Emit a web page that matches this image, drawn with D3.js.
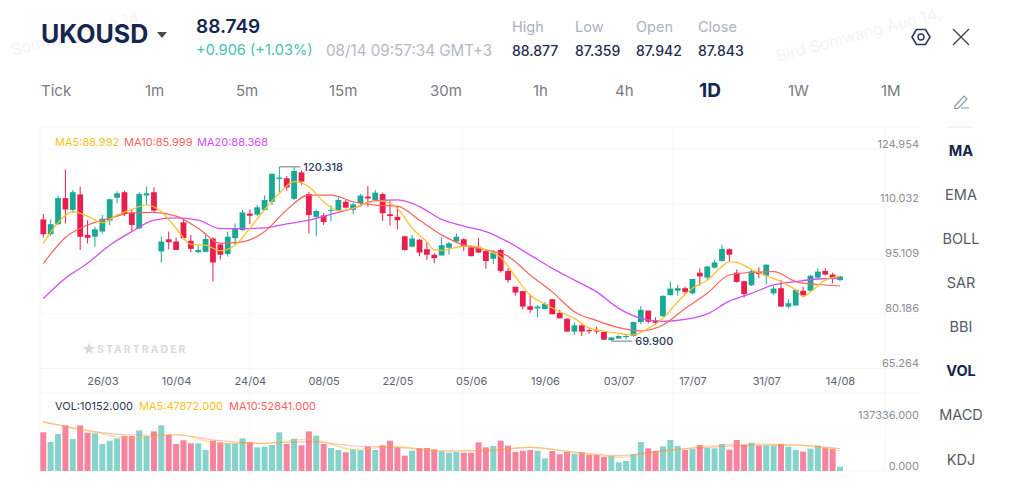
<!DOCTYPE html>
<html>
<head>
<meta charset="utf-8">
<style>
body { margin: 0; background: #fff; }
svg { display: block; font-family: Inter, "Open Sans", sans-serif; }
</style>
<script src="https://d3js.org/d3.v7.min.js"></script>
</head>
<body>
<svg id="chart" width="1024" height="500"></svg>
<script>
var opens = [105.8,101.8,104.5,111.6,108.4,112.6,101.6,101.1,102.5,105.5,
    111.7,113.2,107.6,103.4,112.3,113.2,97.1,100.4,99.8,105.0,
    100.0,96.9,97.0,100.6,99.0,96.4,100.7,102.9,107.4,107.1,
    108.4,110.6,116.8,117.0,111.4,118.6,112.7,106.5,106.9,108.2,
    108.2,110.6,108.4,110.2,112.0,111.1,112.7,107.2,106.5,101.2,
    98.4,100.3,97.7,96.2,96.0,98.1,99.8,100.4,98.2,98.2,
    97.2,95.1,97.5,91.8,87.5,86.3,82.2,81.6,81.4,84.1,
    80.4,78.8,75.3,77.0,75.7,75.6,75.2,73.0,73.4,73.8,
    74.1,77.9,81.0,78.3,79.5,85.2,86.4,87.1,85.7,91.3,
    90.0,92.7,94.5,97.7,91.3,89.0,87.9,91.5,90.5,85.7,
    87.1,82.1,82.4,86.4,86.4,90.0,91.8,90.8,89.3];
var closes = [101.8,104.5,111.6,108.5,113.2,101.1,100.8,103.1,106.0,111.3,
    112.9,107.3,104.3,112.7,112.9,108.2,99.8,99.6,97.5,100.7,
    97.8,97.5,100.5,94.1,96.2,101.1,103.2,107.7,106.8,109.1,
    111.1,118.2,117.2,114.5,119.0,116.1,107.0,108.1,105.1,108.4,
    111.1,109.0,109.9,112.3,111.5,113.1,107.5,106.7,105.6,97.5,
    100.6,96.8,96.2,95.3,98.8,99.3,101.1,98.4,95.8,96.8,
    94.5,96.8,91.8,89.3,85.9,82.1,81.2,82.1,82.8,80.0,
    78.9,75.3,77.0,75.3,75.4,75.3,73.1,73.7,74.1,74.1,
    77.9,81.2,78.0,77.7,85.0,87.0,87.1,86.1,89.6,90.3,
    93.0,94.1,97.8,96.2,88.8,85.5,91.7,91.0,93.5,87.0,
    82.1,83.0,86.6,85.2,90.5,91.6,90.8,89.6,90.3];
var highs = [107.3,105.8,112.3,119.4,113.8,114.7,105.6,103.8,107.0,111.4,
    113.4,113.6,108.4,113.2,114.7,114.5,101.1,102.5,100.9,106.1,
    101.6,98.8,102.0,100.9,99.3,102.5,104.7,108.4,108.5,109.7,
    112.3,118.3,120.1,117.6,120.0,119.1,113.3,108.4,107.5,109.7,
    111.8,111.1,110.4,112.7,114.9,113.8,113.1,110.9,109.3,101.4,
    101.6,100.5,99.7,96.6,100.9,99.7,102.0,100.7,98.8,100.7,
    97.7,97.5,97.9,92.5,87.5,86.4,85.4,82.5,83.4,84.1,
    81.2,78.9,77.8,77.3,76.2,76.6,75.3,73.7,74.3,74.6,
    78.0,82.2,81.0,79.2,85.2,88.9,88.0,87.5,89.7,92.5,
    93.1,94.8,98.9,97.9,92.2,89.1,92.0,92.8,93.6,87.7,
    89.3,84.1,86.9,87.5,90.7,92.5,92.5,91.3,90.5];
var lows = [100.9,101.3,104.4,104.7,107.5,97.5,99.3,98.4,102.0,104.3,
    110.2,106.7,102.7,103.1,109.7,107.9,94.1,97.7,97.5,100.4,
    96.8,96.6,96.9,88.9,94.9,95.7,98.8,102.7,104.5,106.7,
    108.2,109.7,113.2,113.6,111.1,115.2,102.0,101.3,104.3,105.2,
    108.0,108.8,107.2,109.3,109.3,111.1,105.4,104.1,103.1,97.3,
    98.2,95.8,94.8,93.9,96.0,96.3,99.6,97.2,95.8,96.6,
    92.4,93.6,91.3,88.6,85.1,81.3,80.4,79.2,81.4,80.0,
    78.9,75.3,74.4,74.1,74.7,74.6,73.0,72.7,73.4,73.2,
    73.9,77.3,77.5,77.1,79.3,85.1,85.1,85.5,85.5,87.8,
    89.3,92.5,94.3,94.3,88.6,84.5,87.7,89.8,88.1,85.3,
    82.0,81.6,82.3,85.1,86.2,89.6,90.6,88.4,89.0];
var volumes = [91500,68600,87600,108100,75700,108100,90700,89200,63900,71800,
    77300,82800,82800,96300,82800,93900,108100,85200,63900,72600,
    65500,65500,49700,71800,67900,65500,65500,77300,67900,56000,
    57600,61500,91500,63900,76500,60800,93900,83600,63900,54400,
    49700,44200,51300,49700,57600,49700,60800,71800,55200,36300,
    48100,54400,54400,51300,46600,43400,45000,43400,43400,67900,
    56000,59200,71800,60000,45000,48100,49700,48100,30000,47300,
    39500,45000,41000,44200,37900,37900,33100,35500,20500,23700,
    39500,68600,53700,47300,58400,73400,59200,49700,52100,61500,
    54400,53700,63900,50500,73400,62300,67100,60000,60000,60000,
    63900,57600,49700,45800,52900,60000,55200,52900,10152];

var ma5Index = [0,2,4,6,8,10,12,14,16,18,20,22,24,26,28,30,32,34,36,38,40,42,44,46,48,50,52,53,54,56,58,60,62,64,66,68,70,72,74,76,78,80,82,84,86,88,90,92,93,94,96,98,100,102,103,104,106,108];
var ma5 = [99.3,104.9,107.9,106.7,104.9,107.0,108.5,109.8,107.9,103.4,99.0,98.8,97.3,98.8,103.4,108.5,112.9,116.1,114.7,110.6,108.2,108.8,110.4,110.8,108.8,103.4,99.7,97.5,97.4,98.2,98.6,97.5,95.5,90.2,85.2,82.8,80.7,78.9,76.3,75.4,74.8,74.4,76.2,78.9,83.4,87.1,89.3,93.0,94.3,94.1,92.2,90.5,88.9,86.6,84.8,86.1,89.3,90.4];
var maIndex = [0,3,6,9,12,15,18,21,24,27,30,33,36,39,42,45,48,51,54,57,60,63,66,69,72,75,78,81,84,87,90,93,96,99,102,105,108];
var ma10 = [93.8,100.9,104.3,106.1,107.6,107.7,106.7,103.4,99.3,99.7,102.5,108.4,112.4,112.4,110.6,109.7,109.4,105.6,101.6,98.8,97.5,95.8,90.7,86.1,80.7,78.3,76.4,75.5,77.1,81.6,85.7,90.7,91.4,91.6,88.9,88.1,87.7];
var ma20 = [84.3,89.8,93.9,98.8,102.5,105.6,106.2,105.6,103.3,103.3,103.5,104.6,105.6,107.2,108.8,110.9,111.1,109.3,105.8,104.0,102.5,99.7,96.1,92.5,89.3,86.1,81.6,78.9,78.1,78.6,80.1,83.6,85.7,88.0,88.9,89.6,89.8];

var volMaIndex = [0,6,12,18,24,30,36,42,48,54,60,66,72,78,84,90,96,102,108];
var volMa5 = [115200,95500,77300,86800,65500,65500,75700,51300,57600,47300,49700,56000,44200,32300,45800,59200,63900,61500,47872];
var volMa10 = [116800,95500,85200,85200,71800,65500,69400,59200,56000,47300,48100,56000,45000,36300,48100,56000,61500,61500,52841];

var dateTicks = [8,18,28,38,48,58,68,78,88,98,108];
var dateLabels = ["26/03","10/04","24/04","08/05","22/05","05/06","19/06","03/07","17/07","31/07","14/08"];
var priceTicks = [124.954,110.032,95.109,80.186,65.264];
var volTicks = [137336,0];
var periods = ["Tick","1m","5m","15m","30m","1h","4h","1D","1W","1M"];
var indicators = ["MA","EMA","BOLL","SAR","BBI","VOL","MACD","KDJ"];

var RED = "#e91e4d", GREEN = "#1aa897", NAVY = "#15264f";
var YELLOW = "#fbbf24", CORAL = "#f8635f", PURPLE = "#d34ff5";

var svg = d3.select("#chart");
var x = d3.scaleLinear().domain([0, 108]).range([43.3, 840]);
var y = d3.scaleLinear().domain([65.264, 124.954]).range([368.5, 149]);
var yVol = d3.scaleLinear().domain([0, 137336]).range([471, 413]);

function txt(s, tx, ty, size, color, weight, anchor){
    return svg.append("text").attr("x", tx).attr("y", ty)
        .attr("font-size", size).attr("fill", color)
        .attr("font-weight", weight || 400)
        .attr("text-anchor", anchor || "start")
        .attr("dominant-baseline", "central")
        .text(s);
}

// watermark
[["Somwang Aug 14,", 13, 56], ["Bird Somwang Aug 14,", 778, 62]].forEach(function(p){
    svg.append("text").attr("transform", "translate(" + p[1] + "," + p[2] + ") rotate(-15)")
        .attr("font-size", 16).attr("fill", "#f4f4f5").text(p[0]);
});

// grid
var hLines = [127].concat(priceTicks.map(y)).concat([393, 432, 471]);
svg.append("g").selectAll("line").data(hLines).enter().append("line")
    .attr("x1", 40).attr("x2", 920).attr("y1", function(d){ return d; }).attr("y2", function(d){ return d; })
    .attr("stroke", "#f7f7f8");
svg.append("g").selectAll("line").data([40, 250, 462, 673, 885]).enter().append("line")
    .attr("x1", function(d){ return d; }).attr("x2", function(d){ return d; })
    .attr("y1", 127).attr("y2", 471).attr("stroke", "#f7f7f8");

// logo
svg.append("path").attr("d", d3.symbol().type(d3.symbolStar).size(50)()).attr("transform", "translate(89,349)").attr("fill", "#d3d8df");
txt("STARTRADER", 97, 349, 10.5, "#d3d8df", 600).attr("letter-spacing", 2.1);

// candles
var idx = d3.range(opens.length);
function isUp(i){ return closes[i] >= opens[i]; }
function candleColor(i){ return isUp(i) ? GREEN : RED; }

svg.append("g").selectAll("line").data(idx).enter().append("line")
    .attr("x1", x).attr("x2", x)
    .attr("y1", function(i){ return y(highs[i]); })
    .attr("y2", function(i){ return y(lows[i]); })
    .attr("stroke", candleColor).attr("stroke-width", 1);
svg.append("g").selectAll("rect").data(idx).enter().append("rect")
    .attr("x", function(i){ return x(i) - 2.9; })
    .attr("width", 5.8)
    .attr("y", function(i){ return y(Math.max(opens[i], closes[i])); })
    .attr("height", function(i){ return Math.max(1, Math.abs(y(opens[i]) - y(closes[i]))); })
    .attr("fill", candleColor);

// moving averages
function drawLine(scale, xs, ys, color, width, opacity){
    var line = d3.line()
        .x(function(d){ return x(d); })
        .y(function(d, k){ return scale(ys[k]); })
        .curve(d3.curveMonotoneX);
    svg.append("path").attr("d", line(xs)).attr("fill", "none")
        .attr("stroke", color).attr("stroke-width", width).attr("stroke-opacity", opacity || 1);
}
drawLine(y, maIndex, ma20, PURPLE, 1.3);
drawLine(y, maIndex, ma10, CORAL, 1.2);
drawLine(y, ma5Index, ma5, YELLOW, 1.2);

// high / low markers
var hiIdx = 32, loIdx = 77;
svg.append("path").attr("fill", "none").attr("stroke", "#6b7688")
    .attr("d", "M" + x(hiIdx) + "," + y(highs[hiIdx]) + "H" + (x(hiIdx) + 21));
txt("120.318", x(hiIdx) + 24, y(highs[hiIdx]), 11, "#2b3a58", 500);
svg.append("path").attr("fill", "none").attr("stroke", "#6b7688")
    .attr("d", "M" + x(loIdx) + "," + y(lows[loIdx]) + "H" + (x(loIdx) + 21));
txt("69.900", x(loIdx) + 24, y(lows[loIdx]), 11, "#2b3a58", 500);

// volume
svg.append("g").selectAll("rect").data(idx).enter().append("rect")
    .attr("x", function(i){ return x(i) - 3; })
    .attr("width", 6)
    .attr("y", function(i){ return yVol(volumes[i]); })
    .attr("height", function(i){ return yVol(0) - yVol(volumes[i]); })
    .attr("fill", function(i){ return isUp(i) ? "#86d3cb" : "#f7849e"; });
drawLine(yVol, volMaIndex, volMa10, CORAL, 1.2, 0.4);
drawLine(yVol, volMaIndex, volMa5, YELLOW, 1.2, 0.5);

// axes
var xAxis = svg.append("g").attr("transform", "translate(0,381)")
    .call(d3.axisBottom(x).tickValues(dateTicks).tickSize(0).tickPadding(0)
        .tickFormat(function(d, k){ return dateLabels[k]; }));
xAxis.select(".domain").remove();
xAxis.selectAll("text").attr("dy", 0).attr("dominant-baseline", "central")
    .attr("font-size", 11).attr("font-family", "Inter").attr("fill", "#5a6474");

var yAxis = svg.append("g").attr("transform", "translate(919,0)")
    .call(d3.axisLeft(y).tickValues(priceTicks).tickSize(0).tickPadding(0).tickFormat(d3.format(".3f")));
yAxis.select(".domain").remove();
yAxis.selectAll("text").attr("dy", -6).attr("dominant-baseline", "central")
    .attr("font-size", 11).attr("font-family", "Inter").attr("fill", "#8a8f98");

var volAxis = svg.append("g").attr("transform", "translate(919,0)")
    .call(d3.axisLeft(yVol).tickValues(volTicks).tickSize(0).tickPadding(0).tickFormat(d3.format(".3f")));
volAxis.select(".domain").remove();
volAxis.selectAll("text").attr("dy", function(d){ return d === 0 ? -5.5 : 1; }).attr("dominant-baseline", "central")
    .attr("font-size", 11).attr("font-family", "Inter").attr("fill", "#8a8f98");

// legends
txt("MA5:88.992", 55, 142, 11, YELLOW);
txt("MA10:85.999", 124, 142, 11, CORAL);
txt("MA20:88.368", 197, 142, 11, PURPLE);
txt("VOL:10152.000", 55, 406, 11, "#2b3a58");
txt("MA5:47872.000", 139, 406, 11, YELLOW);
txt("MA10:52841.000", 229, 406, 11, CORAL);

// header
txt("UKOUSD", 41, 34, 25, NAVY, 700);
svg.append("path").attr("d", "M157,32h10l-5,6z").attr("fill", "#4a4a4a");
txt("88.749", 196, 26, 19, NAVY, 600);
txt("+0.906 (+1.03%)", 196, 50, 14.6, "#46c1b0");
txt("08/14 09:57:34 GMT+3", 326, 50, 15.2, "#b4bac6");
[["High", "88.877", 512], ["Low", "87.359", 575], ["Open", "87.942", 636], ["Close", "87.843", 698]].forEach(function(c){
    txt(c[0], c[2], 26, 14.5, "#aab2c2");
    txt(c[1], c[2], 50, 14, "#1d2d50", 500);
});

// hexagon and close icons
svg.append("path").attr("d", "M912,37L916.5,29.5H925.5L930,37L925.5,44.5H916.5Z")
    .attr("fill", "none").attr("stroke", "#2b3a5c").attr("stroke-width", 1.6);
svg.append("circle").attr("cx", 921).attr("cy", 37).attr("r", 3).attr("fill", "none").attr("stroke", "#2b3a5c").attr("stroke-width", 1.4);
svg.append("path").attr("d", "M953,29L969,45M969,29L953,45").attr("stroke", "#3a3f4a").attr("stroke-width", 1.3);

// period row
var periodX = [41, 145, 236, 329, 430, 533, 615, 699, 788, 881];
periods.forEach(function(p, k){
    var active = p == "1D";
    txt(p, periodX[k], 90, active ? 19 : 15, active ? NAVY : "#777b82", active ? 700 : 400);
});

// side menu
svg.append("path").attr("d", "M955,106L964,96L967,99L958,108.5L954.5,108.5ZM961,108H969")
    .attr("fill", "none").attr("stroke", "#8f9aa8").attr("stroke-width", 1.2);
svg.append("line").attr("x1", 948).attr("x2", 973).attr("y1", 127).attr("y2", 127).attr("stroke", "#e3e6ea");
var indicatorY = [151, 195, 239, 283, 327, 371, 415, 460];
indicators.forEach(function(m, k){
    var active = m == "MA" || m == "VOL";
    txt(m, 961, indicatorY[k] - 0.5, 14.5, active ? NAVY : "#555b66", active ? 700 : 400, "middle");
});
</script>
</body>
</html>
